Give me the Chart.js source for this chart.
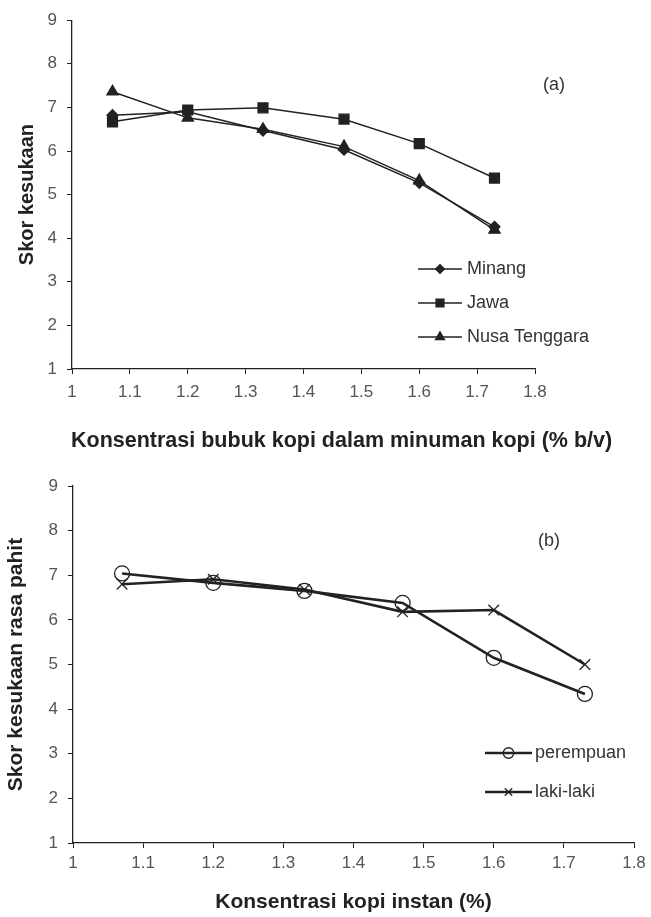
<!DOCTYPE html>
<html>
<head>
<meta charset="utf-8">
<title>Skor kesukaan kopi</title>
<script src="https://cdn.jsdelivr.net/npm/chart.js@4.4.1/dist/chart.umd.min.js"></script>
<style>
  body { margin: 0; background: #fff; }
  canvas { display: block; }
</style>
</head>
<body>
<canvas id="chartA" width="651" height="460"></canvas>
<canvas id="chartB" width="651" height="457"></canvas>
<script>
// data
const konsentrasi = [1.07, 1.2, 1.33, 1.47, 1.6, 1.73];
const minang = [6.82, 6.9, 6.47, 6.03, 5.27, 4.26];
const jawa = [6.67, 6.94, 6.99, 6.73, 6.17, 5.38];
const nusaTenggara = [7.36, 6.76, 6.5, 6.1, 5.32, 4.19];

const perempuan = [7.04, 6.83, 6.65, 6.38, 5.15, 4.34];
const lakiLaki = [6.8, 6.91, 6.68, 6.18, 6.22, 5.0];

const xTicks = [1, 1.1, 1.2, 1.3, 1.4, 1.5, 1.6, 1.7, 1.8];
const xTickLabels = ['1', '1.1', '1.2', '1.3', '1.4', '1.5', '1.6', '1.7', '1.8'];
const yTicks = [1, 2, 3, 4, 5, 6, 7, 8, 9];

const family = "'Liberation Sans', Arial, Helvetica, sans-serif";
const ink = '#222';

function pontos(valores) {
  return konsentrasi.map((x, i) => ({ x: x, y: valores[i] }));
}

// legend, panel label (and a long axis title) drawn inside the canvas
const legendaDentro = {
  id: 'legendaDentro',
  afterDatasetsDraw(chart, args, opts) {
    const ctx = chart.ctx;
    ctx.save();
    chart.data.datasets.forEach((ds, i) => {
      const y = opts.y[i];
      ctx.strokeStyle = ds.borderColor;
      ctx.lineWidth = ds.borderWidth;
      ctx.beginPath();
      ctx.moveTo(opts.x, y);
      ctx.lineTo(opts.x + opts.len, y);
      ctx.stroke();
      ctx.fillStyle = ds.pointBackgroundColor;
      ctx.strokeStyle = ds.pointBorderColor;
      ctx.lineWidth = ds.pointBorderWidth;
      Chart.helpers.drawPoint(ctx, {
        pointStyle: ds.pointStyle,
        radius: ds.pointRadius * opts.markScale,
        rotation: 0,
        borderWidth: ds.pointBorderWidth
      }, opts.x + opts.len / 2, y);
      ctx.fillStyle = '#333';
      ctx.font = opts.font;
      ctx.textBaseline = 'middle';
      ctx.textAlign = 'left';
      ctx.fillText(ds.label, opts.x + opts.len + opts.gap, y);
    });
    ctx.fillStyle = '#333';
    ctx.font = opts.font;
    ctx.textAlign = 'center';
    ctx.textBaseline = 'middle';
    ctx.fillText(opts.panel, opts.panelX, opts.panelY);
    if (opts.xTitle) {
      ctx.fillStyle = ink;
      ctx.font = opts.xTitle.font;
      ctx.textAlign = 'left';
      ctx.fillText(opts.xTitle.text, opts.xTitle.x, opts.xTitle.y);
    }
    ctx.restore();
  }
};

function escalas(o) {
  return {
    x: {
      type: 'linear',
      min: 1,
      max: 1.8,
      afterBuildTicks: s => { s.ticks = xTicks.map(v => ({ value: v })); },
      afterFit: s => { s.height = o.xHeight; },
      ticks: {
        callback: (v, i) => xTickLabels[i],
        color: '#555',
        font: { size: 17, family: family },
        padding: o.xPad,
        maxRotation: 0,
        autoSkip: false
      },
      grid: { drawOnChartArea: false, drawTicks: true, tickLength: 5, color: ink },
      border: { color: ink, width: 1.3 },
      title: {
        display: !!o.xTitle,
        text: o.xTitle,
        align: 'center',
        color: ink,
        font: { size: 21, weight: 'bold', family: family },
        padding: { top: 0, bottom: o.xTitlePad }
      }
    },
    y: {
      min: 1,
      max: 9,
      afterBuildTicks: s => { s.ticks = yTicks.map(v => ({ value: v })); },
      afterFit: s => { s.width = o.yWidth; },
      ticks: {
        color: '#555',
        font: { size: 17, family: family },
        padding: 10
      },
      grid: { drawOnChartArea: false, drawTicks: true, tickLength: 5, color: ink },
      border: { color: ink, width: 1.3 },
      title: {
        display: true,
        text: o.yTitle,
        color: ink,
        font: { size: o.yTitleSize, weight: 'bold', family: family },
        padding: { top: o.yTitlePad, bottom: 0 }
      }
    }
  };
}

function serie(label, valores, estilo, raio, largura, fundo) {
  return {
    label: label,
    data: pontos(valores),
    borderColor: ink,
    borderWidth: largura,
    pointStyle: estilo,
    pointRadius: raio,
    pointHoverRadius: raio,
    pointBackgroundColor: fundo,
    pointBorderColor: ink,
    pointBorderWidth: 1.3,
    tension: 0
  };
}

// grafik (a)
new Chart(document.getElementById('chartA'), {
  type: 'line',
  data: {
    datasets: [
      serie('Minang', minang, 'rectRot', 5.5, 1.5, ink),
      serie('Jawa', jawa, 'rect', 7, 1.5, ink),
      serie('Nusa Tenggara', nusaTenggara, 'triangle', 6.5, 1.5, ink)
    ]
  },
  options: {
    responsive: false,
    animation: false,
    layout: { padding: { top: 17, right: 116, bottom: 0, left: 0 } },
    scales: escalas({
      xHeight: 91, xPad: 8, xTitle: '',
      yWidth: 72, yTitle: 'Skor kesukaan', yTitleSize: 20, yTitlePad: 15
    }),
    plugins: {
      legend: { display: false },
      tooltip: { enabled: false },
      legendaDentro: {
        x: 418, len: 44, gap: 5, y: [269, 303, 337], markScale: 0.8,
        font: '18px ' + family, panel: '(a)', panelX: 554, panelY: 85,
        xTitle: {
          text: 'Konsentrasi bubuk kopi dalam minuman kopi (% b/v)',
          x: 71, y: 441, font: 'bold 21.5px ' + family
        }
      }
    }
  },
  plugins: [legendaDentro]
});

// grafik (b)
new Chart(document.getElementById('chartB'), {
  type: 'line',
  data: {
    datasets: [
      serie('perempuan', perempuan, 'circle', 7.5, 2.6, 'rgba(0,0,0,0)'),
      serie('laki-laki', lakiLaki, 'crossRot', 7.5, 2.6, 'rgba(0,0,0,0)')
    ]
  },
  options: {
    responsive: false,
    animation: false,
    layout: { padding: { top: 26, right: 17, bottom: 0, left: 0 } },
    scales: escalas({
      xHeight: 74, xPad: 5, xTitle: 'Konsentrasi kopi instan (%)', xTitlePad: 2,
      yWidth: 73, yTitle: 'Skor kesukaan rasa pahit', yTitleSize: 21, yTitlePad: 4
    }),
    plugins: {
      legend: { display: false },
      tooltip: { enabled: false },
      legendaDentro: {
        x: 485, len: 47, gap: 3, y: [293, 332], markScale: 0.7,
        font: '18px ' + family, panel: '(b)', panelX: 549, panelY: 81
      }
    }
  },
  plugins: [legendaDentro]
});
</script>
</body>
</html>
